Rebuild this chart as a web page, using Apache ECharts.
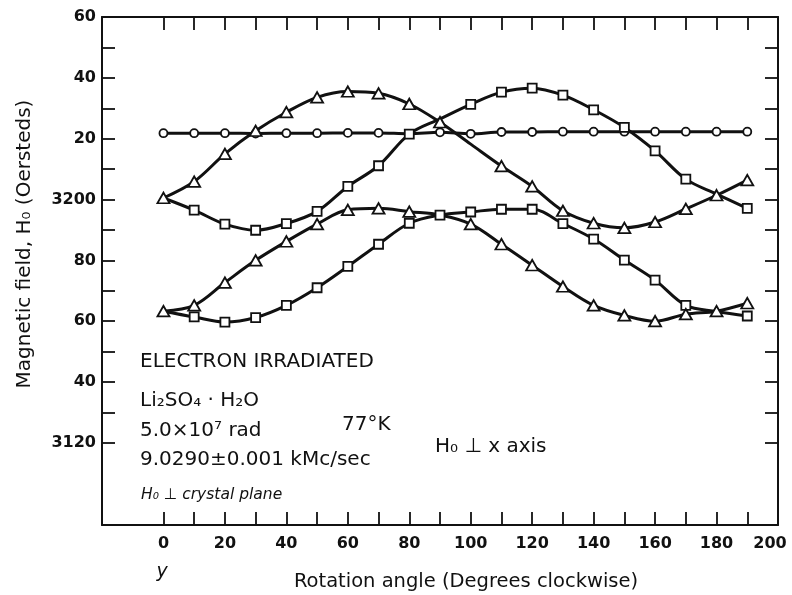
<!DOCTYPE html>
<html>
<head>
<meta charset="utf-8">
<script src="https://cdn.jsdelivr.net/npm/echarts@6/dist/echarts.min.js"></script>
<style>
html,body{margin:0;padding:0;background:#fff;overflow:hidden;}
#chart{width:792px;height:595px;}
</style>
</head>
<body>
<div id="chart"></div>
<script>
// ---- data ----
const angles = [0,10,20,30,40,50,60,70,80,90,100,110,120,130,140,150,160,170,180,190];
const circles = [3221.8,3221.8,3221.8,3221.7,3221.8,3221.8,3221.9,3221.9,3221.6,3222.1,3221.6,3222.2,3222.2,3222.3,3222.3,3222.3,3222.3,3222.3,3222.3,3222.3];
const triUpper = [3200.5,3205.9,3215.0,3222.6,3228.7,3233.6,3235.5,3234.9,3231.4,3225.4,3218.2,3211.0,3204.3,3196.3,3192.2,3190.7,3192.6,3196.9,3201.4,3206.4];
const sqUpper = [3200.5,3196.5,3191.9,3189.9,3192.1,3196.1,3204.3,3211.1,3221.5,3226.5,3231.3,3235.3,3236.6,3234.3,3229.5,3223.7,3216.0,3206.7,3201.8,3197.1];
const triLower = [3163.3,3165.2,3172.7,3180.0,3186.2,3191.9,3196.6,3197.1,3196.0,3194.9,3191.9,3185.3,3178.4,3171.4,3165.2,3161.9,3160.0,3162.3,3163.3,3165.9];
const sqLower = [3163.3,3161.4,3159.7,3161.2,3165.2,3171.0,3178.0,3185.3,3192.2,3194.9,3195.9,3196.8,3196.8,3192.1,3187.0,3180.1,3173.5,3165.2,3163.2,3161.7];
// angles where the reference shows no marker (hidden by another marker or absent)
const noMarkCircles = [80];
const noMarkTriUpper = [100];
const noMarkSqUpper = [0,90,180];
const noMarkTriLower = [90];
const noMarkSqLower = [0,180];

const xTickValues = [0,10,20,30,40,50,60,70,80,90,100,110,120,130,140,150,160,170,180,190];
const xLabelValues = [0,20,40,60,80,100,120,140,160,180,200];
const yTickValues = [3120,3130,3140,3150,3160,3170,3180,3190,3200,3210,3220,3230,3240,3250];
const yLabelValues = [3120,3140,3160,3180,3200,3220,3240,3260];
const yLabelTexts = ['3120','40','60','80','3200','20','40','60'];

const INK = '#111';
const chart = echarts.init(document.getElementById('chart'), null, {renderer:'canvas'});

function lineSeries(vals){
  return {
    type:'line', smooth:0.35, symbol:'none', z:2, silent:true,
    data: angles.map((a,i)=>[a, vals[i]]),
    lineStyle:{color:INK, width:3}
  };
}
function markSeries(vals, symbol, size, hidden){
  return {
    type:'scatter', symbol:symbol, symbolSize:size, z:3, silent:true,
    data: angles.map((a,i)=>[a, vals[i]]).filter(p=>hidden.indexOf(p[0])<0),
    itemStyle:{color:'#fff', borderColor:INK, borderWidth:1.8, opacity:1}
  };
}

const axisLineStyle = {show:true, onZero:false, lineStyle:{color:INK, width:2}};
const tickStyle = {color:INK, width:1.8};
const labelFont = {fontFamily:'DejaVu Sans', fontSize:16, fontWeight:'bold', color:INK};

const option = {
  animation:false,
  backgroundColor:'#fff',
  grid:{left:102, right:14, top:17, bottom:70, containLabel:false, outerBoundsMode:'none'},
  xAxis:[
    {type:'value', min:-20, max:200, position:'bottom',
     axisLine:axisLineStyle,
     axisTick:{show:true, inside:true, length:13, customValues:xTickValues, lineStyle:tickStyle},
     axisLabel:Object.assign({customValues:xLabelValues, margin:11,
       formatter:function(v){ return v===200 ? '{r|200}' : String(v); },
       rich:{r:{fontFamily:'DejaVu Sans', fontSize:16, fontWeight:'bold', color:INK, padding:[0,16,0,0]}}}, labelFont),
     splitLine:{show:false}},
    {type:'value', min:-20, max:200, position:'top',
     axisLine:axisLineStyle,
     axisTick:{show:true, inside:true, length:13, customValues:xTickValues, lineStyle:tickStyle},
     axisLabel:{show:false}, splitLine:{show:false}}
  ],
  yAxis:[
    {type:'value', min:3093, max:3260, position:'left',
     axisLine:axisLineStyle,
     axisTick:{show:true, inside:true, length:13, customValues:yTickValues, lineStyle:tickStyle},
     axisLabel:Object.assign({customValues:yLabelValues, margin:6,
       formatter:function(v){ const k = yLabelValues.indexOf(Math.round(v)); return k>=0 ? yLabelTexts[k] : ''; }}, labelFont),
     splitLine:{show:false}},
    {type:'value', min:3093, max:3260, position:'right',
     axisLine:axisLineStyle,
     axisTick:{show:true, inside:true, length:13, customValues:yTickValues, lineStyle:tickStyle},
     axisLabel:{show:false}, splitLine:{show:false}}
  ],
  series:[
    lineSeries(circles), lineSeries(sqUpper), lineSeries(triUpper), lineSeries(sqLower), lineSeries(triLower),
    markSeries(circles,'circle',8,noMarkCircles),
    markSeries(sqUpper,'rect',9,noMarkSqUpper),
    markSeries(sqLower,'rect',9,noMarkSqLower),
    markSeries(triUpper,'triangle',[12,10.5],noMarkTriUpper),
    markSeries(triLower,'triangle',[12,10.5],noMarkTriLower)
  ],
  graphic:[
    {type:'text', x:25, y:244, rotation:Math.PI/2,
     style:{text:'Magnetic field, H\u2080 (Oersteds)', font:'20px "DejaVu Sans"', fill:INK, align:'center', verticalAlign:'middle'}},
    {type:'text', x:466, y:582,
     style:{text:'Rotation angle (Degrees clockwise)', font:'19.5px "DejaVu Sans"', fill:INK, align:'center', verticalAlign:'middle'}},
    {type:'text', x:162, y:572,
     style:{text:'y', font:'italic 19px "DejaVu Sans"', fill:INK, align:'center', verticalAlign:'middle'}},
    {type:'text', x:140, y:362,
     style:{text:'ELECTRON IRRADIATED', font:'20px "DejaVu Sans"', fill:INK, align:'left', verticalAlign:'middle'}},
    {type:'text', x:140, y:401,
     style:{text:'Li\u2082SO\u2084 \u00b7 H\u2082O', font:'20px "DejaVu Sans"', fill:INK, align:'left', verticalAlign:'middle'}},
    {type:'text', x:140, y:431,
     style:{text:'5.0\u00d710\u2077 rad', font:'20px "DejaVu Sans"', fill:INK, align:'left', verticalAlign:'middle'}},
    {type:'text', x:342, y:425,
     style:{text:'77\u00b0K', font:'20px "DejaVu Sans"', fill:INK, align:'left', verticalAlign:'middle'}},
    {type:'text', x:140, y:460,
     style:{text:'9.0290\u00b10.001 kMc/sec', font:'20px "DejaVu Sans"', fill:INK, align:'left', verticalAlign:'middle'}},
    {type:'text', x:141, y:495,
     style:{text:'H\u2080 \u22a5 crystal plane', font:'italic 15.5px "DejaVu Sans"', fill:INK, align:'left', verticalAlign:'middle'}},
    {type:'text', x:435, y:447,
     style:{text:'H\u2080 \u22a5 x axis', font:'20px "DejaVu Sans"', fill:INK, align:'left', verticalAlign:'middle'}}
  ]
};
chart.setOption(option);
</script>
</body>
</html>
